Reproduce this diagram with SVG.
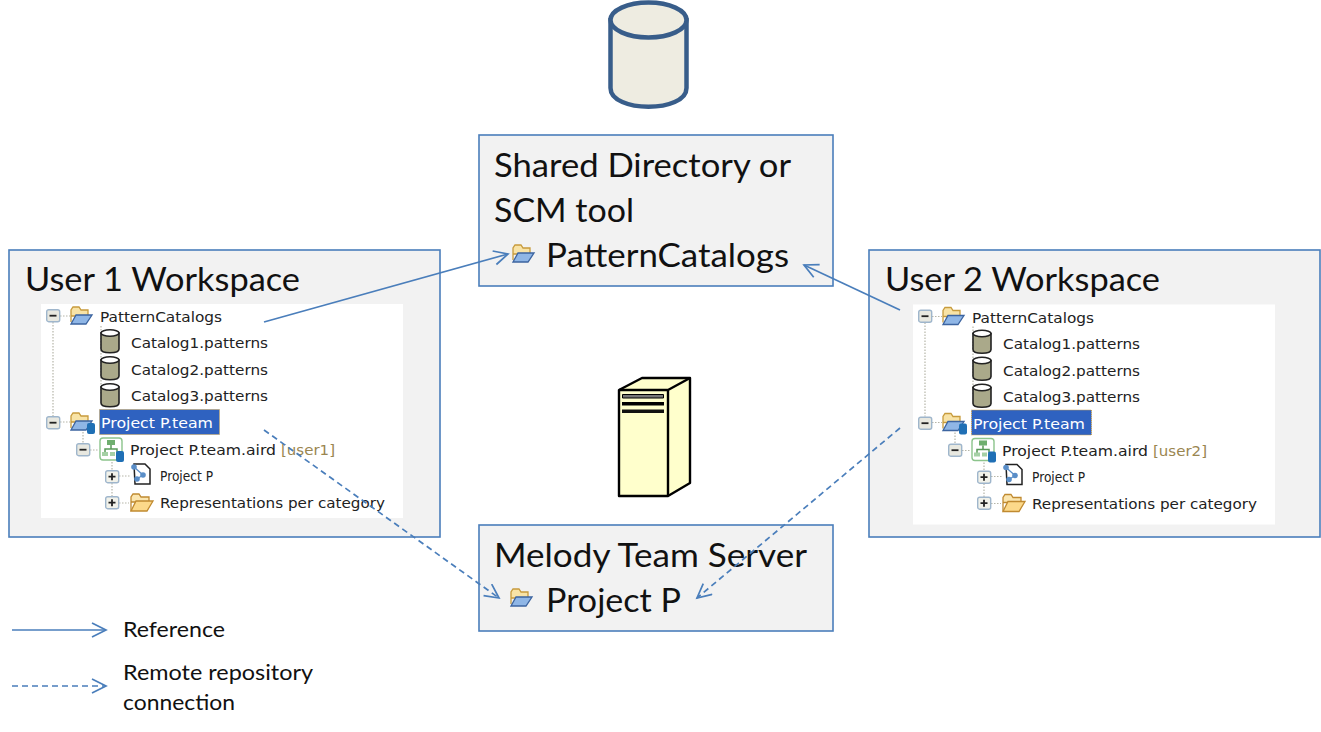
<svg xmlns="http://www.w3.org/2000/svg" xmlns:xlink="http://www.w3.org/1999/xlink" width="1321" height="732" viewBox="0 0 1321 732">
<style>
.box{fill:#f2f2f2;stroke:#4a7ebb;stroke-width:1.6}
.big{font-family:"Lato","Liberation Sans",sans-serif;font-size:33px;fill:#111}
.leg{font-family:"Lato","Liberation Sans",sans-serif;font-size:22px;fill:#111}
.t{font-family:"DejaVu Sans","Liberation Sans",sans-serif;font-size:14.5px;fill:#222}
.con{fill:none;stroke:#4a7ebb;stroke-width:1.7}
.dash{stroke-dasharray:6 4}
.dot{fill:none;stroke:#b5b5a8;stroke-width:1.2;stroke-dasharray:1.5 1.5}
</style>
<defs>
<marker id="arr" markerWidth="18" markerHeight="18" refX="15" refY="8" orient="auto" markerUnits="userSpaceOnUse"><path d="M1 1L15 8L1 15" fill="none" stroke="#4a7ebb" stroke-width="1.7"/></marker>
<g id="folder"><path d="M2 16V4l2-3h6l2 3h7v6H2z" fill="#f8e3a6" stroke="#c79b3c" stroke-width="1.300"/><path d="M2 18L7 9h16l-6 9z" fill="#8fb6e6" stroke="#3c64a0" stroke-width="1.300"/></g>
<g id="ofolder"><path d="M1 18V4l2-3h6l2 3h8v5H1z" fill="#fbe6b0" stroke="#c08a30" stroke-width="1.300"/><path d="M1 18L6 8h17l-6 10z" fill="#fcd98a" stroke="#c08a30" stroke-width="1.300"/></g>
<g id="cyl"><path d="M1 4v16c0 5 18 5 18 0V4z" fill="#aaa98a" stroke="#222" stroke-width="1.600"/><ellipse cx="10" cy="4" rx="9" ry="3.300" fill="#fff" stroke="#222" stroke-width="1.600"/></g>
<g id="minus"><rect x=".7" y=".7" width="13" height="12" rx="2" fill="#e8e8e0" stroke="#9fb6cc" stroke-width="1.400"/><path d="M3.500 6.700h7" stroke="#222" stroke-width="1.800"/></g>
<g id="plus"><rect x=".7" y=".7" width="13" height="12" rx="2" fill="#f2f2ea" stroke="#9fb6cc" stroke-width="1.400"/><path d="M3.500 6.700h7M7 3.200v7" stroke="#222" stroke-width="1.800"/></g>
<g id="air"><rect x="1" y="1" width="22" height="22" rx="3" fill="#fff" stroke="#8cc48c" stroke-width="1.400"/><rect x="8" y="3" width="8" height="5" fill="#6fae6f"/><path d="M12 8v4M6 16v-4h12v4" fill="none" stroke="#5a9a5a" stroke-width="1.500"/><rect x="3" y="15" width="6" height="4" fill="#a5d0a5"/><rect x="11" y="15" width="5" height="4" fill="#a5d0a5"/><rect x="17" y="14" width="8" height="11" rx="2" fill="#1f6fb5"/></g>
<g id="proj"><path d="M3 1h11l5 5v15H4z" fill="#fff" stroke="#222" stroke-width="1.500"/><path d="M3 4l9 8-6 4" fill="none" stroke="#5a8ec8" stroke-width="1.300"/><circle cx="3" cy="4" r="2.800" fill="#5a8ec8"/><circle cx="12" cy="12" r="2.800" fill="#5a8ec8"/><circle cx="6" cy="16" r="2.800" fill="#5a8ec8"/></g>
<g id="tree">
<rect x="0" y="0" width="362" height="220" fill="#fff"/>
<path class="dot" d="M12 18V112M19 12H29M60 22V91M60 38H72M60 65H72M60 91H72M19 118H29M42 125V140M49 146H58M71 158V199M78 172H90M78 199H88"/>
<use xlink:href="#minus" x="5" y="5"/>
<use xlink:href="#folder" x="28" y="2"/>
<text class="t" x="59" y="18" textLength="122" lengthAdjust="spacingAndGlyphs">PatternCatalogs</text>
<use xlink:href="#cyl" x="59" y="25"/><text class="t" x="90" y="44" textLength="137" lengthAdjust="spacingAndGlyphs">Catalog1.patterns</text>
<use xlink:href="#cyl" x="59" y="52"/><text class="t" x="90" y="71" textLength="137" lengthAdjust="spacingAndGlyphs">Catalog2.patterns</text>
<use xlink:href="#cyl" x="59" y="79"/><text class="t" x="90" y="97" textLength="137" lengthAdjust="spacingAndGlyphs">Catalog3.patterns</text>
<use xlink:href="#minus" x="5" y="112"/>
<use xlink:href="#folder" x="28" y="108"/><rect x="46" y="119" width="8" height="11" rx="2" fill="#1f6fb5"/>
<rect x="58.500" y="105.500" width="120" height="25" fill="#2f62c0" stroke="#c9a050" stroke-dasharray="1 1"/>
<text class="t" x="60" y="124" textLength="112" lengthAdjust="spacingAndGlyphs" style="fill:#fff">Project P.team</text>
<use xlink:href="#minus" x="35" y="139"/>
<use xlink:href="#air" x="58" y="133"/>
<text class="t" x="89" y="151" textLength="146" lengthAdjust="spacingAndGlyphs">Project P.team.aird</text>
<use xlink:href="#plus" x="64" y="166"/>
<use xlink:href="#proj" x="90" y="159"/>
<text class="t" x="119" y="177" textLength="53" lengthAdjust="spacingAndGlyphs">Project P</text>
<use xlink:href="#plus" x="64" y="192"/>
<use xlink:href="#ofolder" x="89" y="189"/>
<text class="t" x="119" y="204" textLength="225" lengthAdjust="spacingAndGlyphs">Representations per category</text>
</g>
</defs>

<g id="db"><path d="M610.500 20v68c0 25 76 25 76 0V20z" fill="#eeece1" stroke="#385d8a" stroke-width="4.500"/><ellipse cx="648.500" cy="20" rx="38" ry="17.500" fill="#eeece1" stroke="#385d8a" stroke-width="4.500"/></g>

<g id="server" stroke="#000" stroke-width="2.400" stroke-linejoin="round"><path d="M619 390l23-12h48v105l-22 13H619z" fill="#ffffcc"/><path d="M619 390h49v106M668 390l22-12" fill="none"/><rect x="622.500" y="394.500" width="41" height="3.500" fill="#777" stroke="#000" stroke-width="1"/><rect x="622" y="402" width="42" height="3.500" fill="#000" stroke="none"/><rect x="622" y="409.500" width="42" height="3.500" fill="#111" stroke="none"/></g>

<g id="shared"><rect class="box" x="479" y="135" width="354" height="151"/><text class="big" x="494" y="177" textLength="297" lengthAdjust="spacingAndGlyphs">Shared Directory or</text><text class="big" x="494" y="222" textLength="140" lengthAdjust="spacingAndGlyphs">SCM tool</text><use xlink:href="#folder" x="511" y="244"/><text class="big" x="546" y="267" textLength="243" lengthAdjust="spacingAndGlyphs">PatternCatalogs</text></g>

<g id="team"><rect class="box" x="479" y="525" width="354" height="106"/><text class="big" x="494" y="567" textLength="313" lengthAdjust="spacingAndGlyphs">Melody Team Server</text><use xlink:href="#folder" x="509" y="588"/><text class="big" x="546" y="612" textLength="135" lengthAdjust="spacingAndGlyphs">Project P</text></g>

<g id="user1"><rect class="box" x="9" y="250" width="431" height="287"/><text class="big" x="25" y="291" textLength="275" lengthAdjust="spacingAndGlyphs">User 1 Workspace</text><use xlink:href="#tree" x="41" y="304" /><rect x="41" y="518" width="362" height="7" fill="#f2f2f2"/><text class="t" x="281" y="455" textLength="54" lengthAdjust="spacingAndGlyphs" style="fill:#9a8650">[user1]</text></g>

<g id="user2"><rect class="box" x="869" y="250" width="451" height="287"/><text class="big" x="885" y="291" textLength="275" lengthAdjust="spacingAndGlyphs">User 2 Workspace</text><use xlink:href="#tree" x="913" y="304.500"/><text class="t" x="1153" y="455.500" textLength="54" lengthAdjust="spacingAndGlyphs" style="fill:#9a8650">[user2]</text></g>

<g id="connectors">
<path class="con" marker-end="url(#arr)" d="M264 322L508 254"/>
<path class="con" marker-end="url(#arr)" d="M900 310L804 265"/>
<path class="con dash" marker-end="url(#arr)" d="M264 430L499 598"/>
<path class="con dash" marker-end="url(#arr)" d="M900 428L697 598"/>
<path class="con" marker-end="url(#arr)" d="M12 630H106"/>
<path class="con dash" marker-end="url(#arr)" d="M12 686H106"/>
</g>

<g id="legend"><text class="leg" x="123" y="637" textLength="102" lengthAdjust="spacingAndGlyphs">Reference</text><text class="leg" x="123" y="680" textLength="190" lengthAdjust="spacingAndGlyphs">Remote repository</text><text class="leg" x="123" y="710" textLength="112" lengthAdjust="spacingAndGlyphs">connection</text></g>
</svg>
